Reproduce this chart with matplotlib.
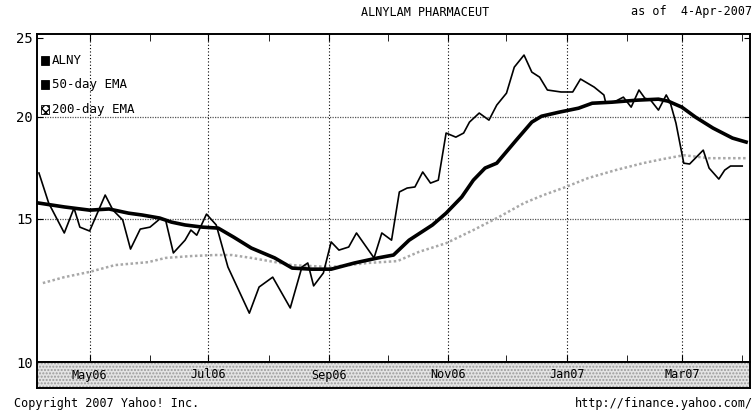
import numpy as np
import pandas as pd
import matplotlib
matplotlib.use("Agg")
import matplotlib.pyplot as plt
import matplotlib.dates as mdates
from matplotlib.patches import Rectangle

# ALNY closing price (approx. weekly turning points)
price_dates = ["2006-04-05", "2006-04-10", "2006-04-18", "2006-04-23", "2006-04-26", "2006-05-01",
               "2006-05-09", "2006-05-13", "2006-05-18", "2006-05-22", "2006-05-27", "2006-06-01",
               "2006-06-06", "2006-06-09", "2006-06-13", "2006-06-19", "2006-06-22", "2006-06-25",
               "2006-06-30", "2006-07-05", "2006-07-11", "2006-07-22", "2006-07-27", "2006-08-03",
               "2006-08-12", "2006-08-18", "2006-08-21", "2006-08-24", "2006-08-29", "2006-09-02",
               "2006-09-06", "2006-09-11", "2006-09-15", "2006-09-24", "2006-09-28", "2006-10-03",
               "2006-10-07", "2006-10-11", "2006-10-15", "2006-10-19", "2006-10-23", "2006-10-27",
               "2006-10-31", "2006-11-05", "2006-11-09", "2006-11-12", "2006-11-17", "2006-11-22",
               "2006-11-26", "2006-12-01", "2006-12-05", "2006-12-10", "2006-12-14", "2006-12-18",
               "2006-12-22", "2006-12-29", "2007-01-04", "2007-01-08", "2007-01-15", "2007-01-20",
               "2007-01-21", "2007-01-25", "2007-01-30", "2007-02-03", "2007-02-07", "2007-02-10",
               "2007-02-13", "2007-02-17", "2007-02-21", "2007-02-23", "2007-02-26", "2007-03-02",
               "2007-03-05", "2007-03-12", "2007-03-15", "2007-03-20", "2007-03-23", "2007-03-26",
               "2007-04-01"]
price = [17.06, 15.67, 14.40, 15.45, 14.64, 14.48,
         16.03, 15.36, 14.94, 13.76, 14.56, 14.64,
         14.98, 14.94, 13.61, 14.11, 14.52, 14.31,
         15.19, 14.73, 13.08, 11.48, 12.36, 12.71,
         11.65, 13.08, 13.23, 12.40, 12.86, 14.04,
         13.72, 13.84, 14.40, 13.42, 14.40, 14.11,
         16.17, 16.35, 16.40, 17.11, 16.58, 16.72,
         19.10, 18.88, 19.10, 19.70, 20.21, 19.81,
         20.67, 21.38, 23.01, 23.81, 22.69, 22.37,
         21.57, 21.45, 21.45, 22.25, 21.75, 21.27,
         20.78, 20.84, 21.14, 20.55, 21.57, 21.08,
         20.96, 20.38, 21.27, 20.84, 19.64, 17.54,
         17.50, 18.20, 17.30, 16.77, 17.20, 17.40,
         17.40]

ema50_dates = ["2006-04-05", "2006-04-18", "2006-05-01", "2006-05-11", "2006-05-21", "2006-05-28",
               "2006-06-06", "2006-06-12", "2006-06-19", "2006-06-28", "2006-07-06", "2006-07-14",
               "2006-07-23", "2006-08-04", "2006-08-13", "2006-08-23", "2006-09-02", "2006-09-14",
               "2006-09-26", "2006-10-04", "2006-10-12", "2006-10-24", "2006-10-31", "2006-11-08",
               "2006-11-14", "2006-11-20", "2006-11-26", "2006-12-06", "2006-12-14", "2006-12-19",
               "2006-12-28", "2007-01-07", "2007-01-14", "2007-01-24", "2007-02-06", "2007-02-17",
               "2007-02-22", "2007-03-01", "2007-03-08", "2007-03-17", "2007-03-27", "2007-04-03"]
ema50 = [15.67, 15.50, 15.36, 15.41, 15.23, 15.15,
         15.02, 14.85, 14.73, 14.64, 14.60, 14.23,
         13.80, 13.42, 13.04, 13.00, 13.00, 13.23,
         13.42, 13.53, 14.11, 14.73, 15.23, 15.94,
         16.72, 17.30, 17.54, 18.72, 19.70, 20.03,
         20.26, 20.49, 20.78, 20.84, 20.96, 21.02,
         20.90, 20.55, 19.98, 19.37, 18.83, 18.62]

ema200_dates = ["2006-04-07", "2006-04-18", "2006-05-01", "2006-05-14", "2006-05-31", "2006-06-09",
                "2006-06-22", "2006-07-04", "2006-07-13", "2006-07-23", "2006-08-13", "2006-09-02",
                "2006-09-21", "2006-10-06", "2006-10-17", "2006-10-31", "2006-11-14", "2006-11-27",
                "2006-12-10", "2006-12-20", "2006-12-30", "2007-01-12", "2007-01-26", "2007-02-09",
                "2007-02-19", "2007-03-02", "2007-03-15", "2007-04-03"]
ema200 = [12.50, 12.71, 12.90, 13.15, 13.26, 13.42,
          13.49, 13.53, 13.53, 13.42, 13.15, 13.08,
          13.23, 13.30, 13.65, 13.99, 14.52, 15.06,
          15.67, 16.03, 16.35, 16.82, 17.20, 17.54,
          17.74, 17.94, 17.79, 17.79]

month_labels = ["May06", "Jul06", "Sep06", "Nov06", "Jan07", "Mar07"]
month_ticks = ["2006-05-01", "2006-07-01", "2006-09-01", "2006-11-01", "2007-01-01", "2007-03-01"]
minor_ticks = ["2006-06-01", "2006-08-01", "2006-10-01", "2006-12-01", "2007-02-01", "2007-04-01"]
y_ticks = [10, 15, 20, 25]

mono = "DejaVu Sans Mono"
fig = plt.figure(figsize=(7.55, 4.16), dpi=100)
ax = fig.add_axes([37/755, 54/416, 713/755, 328/416])
strip = fig.add_axes([37/755, 28/416, 713/755, 26/416], sharex=ax)

d = lambda s: pd.to_datetime(s)
ax.plot(d(ema200_dates), ema200, color="#a8a8a8", lw=1.8, ls=(0, (1, 1)), zorder=2)
ax.plot(d(ema50_dates), ema50, color="black", lw=2.6, zorder=3)
ax.plot(d(price_dates), price, color="black", lw=1.2, zorder=4)

ax.set_yscale("log")
ax.set_ylim(10, 25.27)
ax.set_xlim(d("2006-04-04"), d("2007-04-05"))
ax.set_yticks(y_ticks)
ax.set_yticklabels([str(v) for v in y_ticks], family=mono, fontsize=10)
ax.yaxis.set_minor_locator(matplotlib.ticker.NullLocator())
ax.tick_params(axis="y", direction="in", length=4, pad=3, right=True, labelright=False)
ax.set_xticks(d(month_ticks))
ax.set_xticks(d(minor_ticks), minor=True)
ax.tick_params(axis="x", which="both", direction="in", top=True, labelbottom=False, length=5)

for t in d(month_ticks):
    ax.axvline(t, color="black", lw=0.8, ls=(0, (1, 2)), zorder=1)
for v in [15, 20]:
    ax.axhline(v, color="#555555", lw=0.9, ls=(0, (1, 1)), zorder=1)
for s in ax.spines.values():
    s.set_linewidth(1.4)

# legend
leg_items = [("ALNY", "black", None), ("50-day EMA", "black", None), ("200-day EMA", "white", "xxxx")]
for i, (lab, fc, hatch) in enumerate(leg_items):
    yy = 0.92 - i * 0.075
    ax.add_patch(Rectangle((0.006, yy - 0.014), 0.011, 0.028, transform=ax.transAxes,
                           facecolor=fc, edgecolor="black", hatch=hatch, lw=0.6, zorder=5))
    ax.text(0.021, yy, lab, transform=ax.transAxes, family=mono, fontsize=9, va="center", ha="left")

# date strip
strip.set_facecolor("#e4e4e4")
strip.patch.set_hatch(".....")
strip.patch.set_edgecolor("#9a9a9a")
strip.set_yticks([])
strip.tick_params(axis="x", which="both", length=0, labelbottom=False)
for s in strip.spines.values():
    s.set_linewidth(1.4)
    s.set_edgecolor("black")
for t, lab in zip(d(month_ticks), month_labels):
    strip.text(t, 0.5, lab, transform=strip.get_xaxis_transform(), family=mono,
               fontsize=8.5, ha="center", va="center")

fig.text(425/755, 1 - 12/416, "ALNYLAM PHARMACEUT", family=mono, fontsize=8.5, ha="center", va="center")
fig.text(752/755, 1 - 12/416, "as of  4-Apr-2007", family=mono, fontsize=8.5, ha="right", va="center")
fig.text(14/755, 1 - 404/416, "Copyright 2007 Yahoo! Inc.", family=mono, fontsize=8.5, ha="left", va="center")
fig.text(753/755, 1 - 404/416, "http://finance.yahoo.com/", family=mono, fontsize=8.5, ha="right", va="center")

fig.savefig("out.png", dpi=100)
